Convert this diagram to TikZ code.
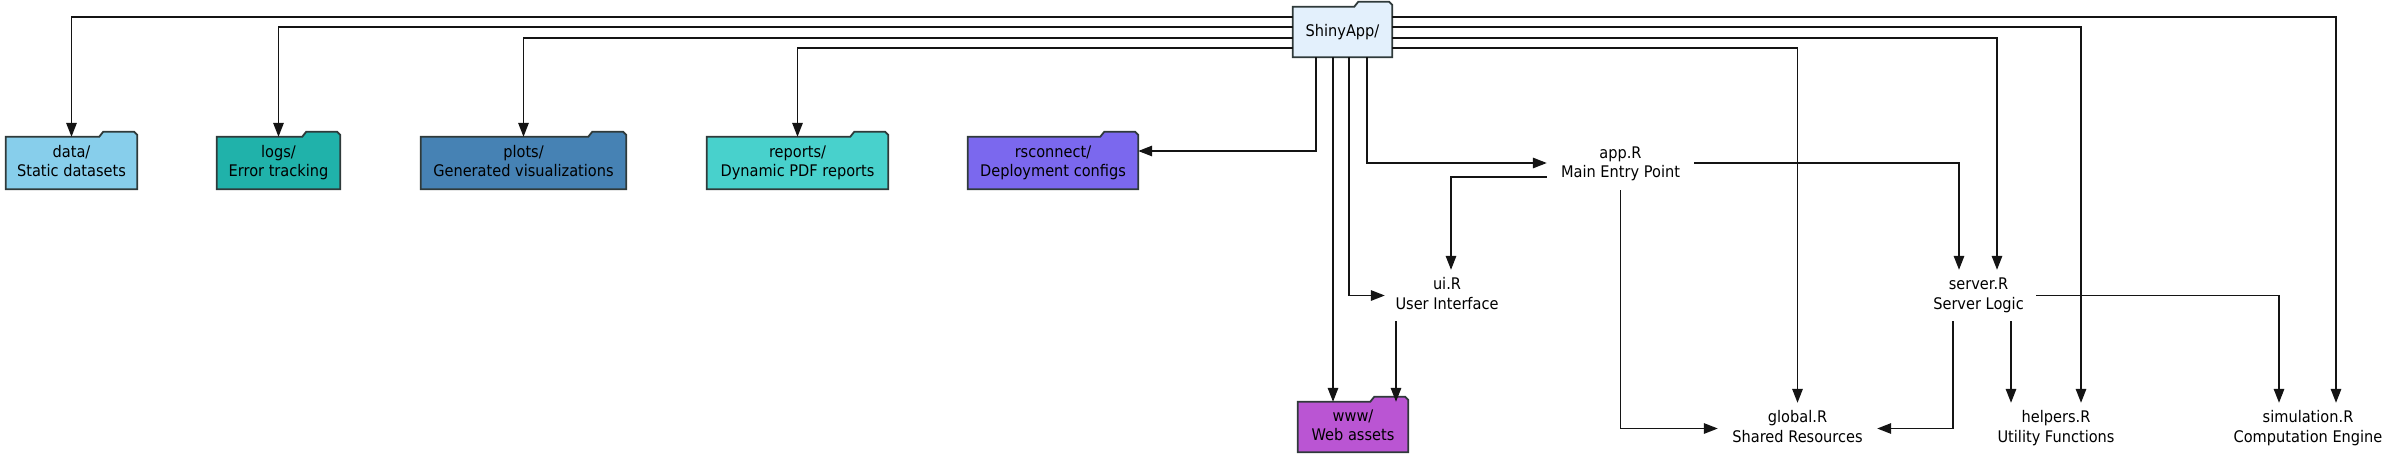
\documentclass[tikz,border=0pt]{standalone}
\usepackage{fontspec}
\setmainfont{DejaVu Sans}[FakeStretch=0.91]
\usetikzlibrary{arrows.meta,backgrounds}
\definecolor{cdata}{HTML}{87CEEB}
\definecolor{clogs}{HTML}{20B2AA}
\definecolor{cplots}{HTML}{4682B4}
\definecolor{creports}{HTML}{48D1CC}
\definecolor{crsconnect}{HTML}{7B68EE}
\definecolor{cwww}{HTML}{BA55D3}
\definecolor{cshiny}{HTML}{E3F0FC}
\definecolor{cborder}{HTML}{2F3A3A}
\tikzset{
  base/.style={shape=rectangle, inner sep=0pt, align=center,
    font=\fontsize{16}{19.5}\selectfont, text=black},
  filenode/.style={base, minimum height=52pt},
  foldernode/.style={base, minimum height=52pt},
  conn/.style={draw=black!92, line width=1.5pt,
    -{Triangle[length=14pt,width=10.5pt]}},
  folderline/.style={draw=cborder, line width=1.8pt, line join=miter}
}
\newcommand\twol[2]{\strut #1\\\strut #2}
\newcommand\folderbg[2]{%
  \path[folderline, fill=#2] (#1.north west) -- ([xshift=-38pt]#1.north east)
    -- ([xshift=-34pt,yshift=5pt]#1.north east)
    -- ([xshift=-3pt,yshift=5pt]#1.north east)
    -- ([yshift=2pt]#1.north east) -- (#1.south east) -- (#1.south west) -- cycle;}
\begin{document}
\begin{tikzpicture}[x=1pt,y=-1pt]
\useasboundingbox (0,0) rectangle (2400,459);
% folders
\node[foldernode, minimum width=99pt, minimum height=50pt] (shiny) at (1342.5,32) {ShinyApp/};
\node[foldernode, minimum width=131pt] (data) at (71.5,163) {\twol{data/}{Static datasets}};
\node[foldernode, minimum width=123pt] (logs) at (278.5,163) {\twol{logs/}{Error tracking}};
\node[foldernode, minimum width=205pt] (plots) at (523.5,163) {\twol{plots/}{Generated visualizations}};
\node[foldernode, minimum width=181pt] (reports) at (797.5,163) {\twol{reports/}{Dynamic PDF reports}};
\node[foldernode, minimum width=170pt] (rsconnect) at (1053,163) {\twol{rsconnect/}{Deployment configs}};
\node[foldernode, minimum width=110pt, minimum height=50pt] (www) at (1353,427) {\twol{www/}{Web assets}};
% files
\node[filenode, minimum width=147pt] (app) at (1620.5,164) {\twol{app.R}{Main Entry Point}};
\node[filenode, minimum width=124pt, minimum height=51pt] (ui) at (1447,295.5) {\twol{ui.R}{User Interface}};
\node[filenode, minimum width=115pt, minimum height=51pt] (server) at (1978.5,295.5) {\twol{server.R}{Server Logic}};
\node[filenode, minimum width=159pt, minimum height=51pt] (global) at (1797.5,428.5) {\twol{global.R}{Shared Resources}};
\node[filenode, minimum width=140pt, minimum height=51pt] (helpers) at (2056,428.5) {\twol{helpers.R}{Utility Functions}};
\node[filenode, minimum width=172pt, minimum height=51pt] (simulation) at (2308,428.5) {\twol{simulation.R}{Computation Engine}};
\begin{scope}[on background layer]
  \folderbg{shiny}{cshiny}
  \folderbg{data}{cdata}
  \folderbg{logs}{clogs}
  \folderbg{plots}{cplots}
  \folderbg{reports}{creports}
  \folderbg{rsconnect}{crsconnect}
  \folderbg{www}{cwww}
\end{scope}
% connectors from ShinyApp, left side
\draw[conn] ([yshift=15pt]shiny.west) -| (data.north);
\draw[conn] ([yshift=5pt]shiny.west) -| (logs.north);
\draw[conn] ([yshift=-6pt]shiny.west) -| (plots.north);
\draw[conn] ([yshift=-16pt]shiny.west) -| (reports.north);
% right side
\draw[conn] ([yshift=15pt]shiny.east) -| ([xshift=28pt]simulation.north);
\draw[conn] ([yshift=5pt]shiny.east) -| ([xshift=25pt]helpers.north);
\draw[conn] ([yshift=-6pt]shiny.east) -| ([xshift=18.5pt]server.north);
\draw[conn] ([yshift=-16pt]shiny.east) -| (global.north);
% bottom
\draw[conn] ([xshift=-26.5pt]shiny.south) |- ([yshift=12pt]rsconnect.east);
\draw[conn] ([xshift=-20pt]www.north |- shiny.south) -- ([xshift=-20pt]www.north);
\draw[conn] ([xshift=6.5pt]shiny.south) |- (ui.west);
\draw[conn] ([xshift=24.5pt]shiny.south) |- ([yshift=1pt]app.west);
% app.R
\draw[conn] ([yshift=-13pt]app.west) -| ([xshift=4pt]ui.north);
\draw[conn] (app.south) |- (global.west);
\draw[conn] ([yshift=1pt]app.east) -| ([xshift=-19.5pt]server.north);
% ui.R
\draw[conn] ([xshift=-51pt]ui.south) -- ([xshift=-51pt]ui.south |- www.north);
% server.R
\draw[conn] ([xshift=-25.5pt]server.south) |- (global.east);
\draw[conn] ([xshift=-45pt]helpers.north |- server.south) -- ([xshift=-45pt]helpers.north);
\draw[conn] (server.east) -| ([xshift=-29pt]simulation.north);
\end{tikzpicture}
\end{document}
